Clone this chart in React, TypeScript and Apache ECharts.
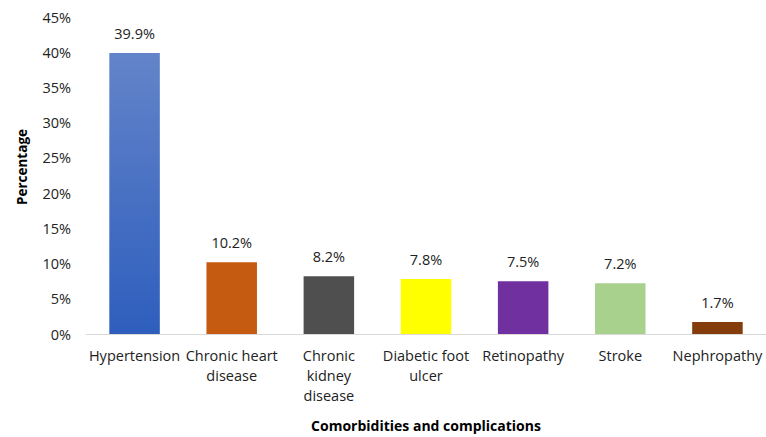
import React, { useEffect, useRef } from "react";
import * as echarts from "echarts";

const categories = [
  "Hypertension",
  "Chronic heart\ndisease",
  "Chronic\nkidney\ndisease",
  "Diabetic foot\nulcer",
  "Retinopathy",
  "Stroke",
  "Nephropathy",
];
const values = [39.9, 10.2, 8.2, 7.8, 7.5, 7.2, 1.7];
const barColors = [
  "gradient",
  "#c55a11",
  "#4f4f4f",
  "#ffff00",
  "#7030a0",
  "#a9d18e",
  "#843c0c",
];
const yTicks = [0, 5, 10, 15, 20, 25, 30, 35, 40, 45];
const xTitle = "Comorbidities and complications";
const yTitle = "Percentage";

const FONT = "'Open Sans', sans-serif";
const FS = 14.5;

export default function App() {
  const ref = useRef<HTMLDivElement>(null);
  useEffect(() => {
    if (!ref.current) return;
    const chart = echarts.init(ref.current, undefined, { renderer: "svg" });
    const data = values.map((v, i) => ({
      value: v,
      itemStyle: {
        color:
          barColors[i] === "gradient"
            ? new echarts.graphic.LinearGradient(0, 0, 0, 1, [
                { offset: 0, color: "#6384c9" },
                { offset: 1, color: "#2e5ebd" },
              ])
            : barColors[i],
      },
    }));
    chart.setOption({
      animation: false,
      backgroundColor: "#ffffff",
      graphic: [
        {
          type: "text",
          x: 22,
          y: 167,
          rotation: Math.PI / 2,
          style: {
            text: yTitle,
            fontFamily: FONT,
            fontWeight: "bold",
            fontSize: 13.5,
            fill: "#000",
            align: "center",
            verticalAlign: "middle",
          },
        },
      ],
      grid: { left: 86, right: 0, top: 17, bottom: 94, containLabel: false },
      xAxis: {
        type: "category",
        data: categories,
        name: xTitle,
        nameLocation: "middle",
        nameGap: 84,
        nameTextStyle: { fontFamily: FONT, fontWeight: "bold", fontSize: 14, color: "#000" },
        axisLine: { lineStyle: { color: "#d9d9d9", width: 1 } },
        axisTick: { show: false },
        axisLabel: {
          interval: 0,
          margin: 11,
          fontFamily: FONT,
          fontSize: FS,
          color: "#222",
          lineHeight: 20,
        },
      },
      yAxis: {
        type: "value",
        min: 0,
        max: 45,
        interval: 5,
        axisLine: { show: false },
        axisTick: { show: false },
        splitLine: { show: false },
        axisLabel: {
          margin: 15,
          padding: [6, 0, 0, 0],
          fontFamily: FONT,
          fontSize: FS,
          color: "#222",
          formatter: (v: number) => (yTicks.includes(v) ? v + "%" : ""),
        },
      },
      series: [
        {
          type: "bar",
          data,
          barWidth: "52%",
          label: {
            show: true,
            position: "top",
            distance: 12,
            fontFamily: FONT,
            fontSize: FS,
            color: "#222",
            formatter: (p: any) => p.value.toFixed(1) + "%",
          },
        },
      ],
    });
    return () => chart.dispose();
  }, []);
  return (
    <div
      ref={ref}
      style={{ position: "absolute", left: 0, top: 0, width: 766, height: 437 }}
    />
  );
}
